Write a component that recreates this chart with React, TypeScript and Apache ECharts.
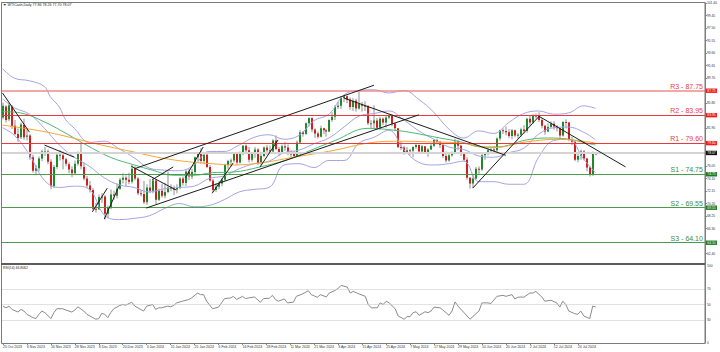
import React, { useEffect, useRef } from 'react';
import * as echarts from 'echarts';

const FONT = 'Liberation Sans, Arial, sans-serif';
const TITLE = '\u25BC WTICash,Daily 77.86 78.26 77.70 78.07';
const RSI_TITLE = 'RSI(14) 46.8062';

// x-axis tick labels (one every 8 daily bars)
const DATE_LABELS = [
  '25 Oct 2023', '6 Nov 2023', '16 Nov 2023', '28 Nov 2023', '8 Dec 2023', '20 Dec 2023',
  '3 Jan 2024', '15 Jan 2024', '25 Jan 2024', '6 Feb 2024', '16 Feb 2024', '28 Feb 2024',
  '11 Mar 2024', '21 Mar 2024', '3 Apr 2024', '15 Apr 2024', '25 Apr 2024', '7 May 2024',
  '17 May 2024', '29 May 2024', '10 Jun 2024', '20 Jun 2024', '2 Jul 2024', '12 Jul 2024',
  '24 Jul 2024',
];
const LABEL_STEP = 8;
const SLOT_COUNT = 235; // bar slots across the plot, incl. empty right margin

// daily candles [open, close, low, high]
const CANDLES = [
  // Oct 2023
  [83.6, 85.4, 83.3, 85.9], [85.3, 83.2, 82.8, 85.5], [83.3, 85.5, 83.0, 85.9], [85.3, 82.3, 81.8, 85.5], [82.3, 81.0, 80.8, 83.2],
  // Nov 2023
  [81.0, 80.4, 79.8, 81.9], [80.5, 82.5, 80.2, 82.8], [82.4, 80.5, 80.1, 83.4], [80.6, 80.8, 80.0, 81.9], [80.8, 77.4, 77.0, 81.0],
  [77.4, 75.3, 75.0, 77.8], [75.3, 75.7, 74.6, 76.2], [75.7, 77.2, 75.2, 77.5], [77.2, 78.3, 76.8, 78.6], [78.3, 78.3, 77.6, 79.0],
  [78.3, 76.7, 76.3, 78.6], [76.7, 72.9, 72.4, 77.1], [72.9, 75.9, 72.6, 76.2], [75.9, 77.8, 75.6, 78.2], [77.8, 77.8, 76.9, 78.5],
  [77.7, 77.1, 75.5, 78.3], [77.1, 76.4, 76.0, 77.3], [76.3, 75.5, 74.9, 76.6], [75.5, 74.9, 74.3, 76.0], [74.9, 76.4, 74.6, 76.9],
  [76.4, 77.9, 76.1, 78.3], [77.9, 76.0, 75.5, 79.7],
  // Dec 2023
  [75.9, 74.1, 73.8, 76.6], [74.1, 73.0, 72.6, 74.5], [73.0, 72.3, 71.9, 73.7], [72.3, 69.4, 69.2, 72.6], [69.4, 69.3, 68.8, 70.3],
  [69.3, 71.2, 69.2, 71.6], [71.2, 71.3, 70.3, 71.8], [71.3, 68.6, 67.7, 71.5], [68.6, 69.5, 67.9, 69.9], [69.5, 71.6, 69.3, 72.4],
  [71.6, 71.4, 70.8, 72.2], [71.4, 72.5, 71.0, 73.3], [72.5, 73.9, 72.3, 74.2], [73.9, 74.2, 73.3, 74.9], [74.2, 73.9, 72.9, 74.6],
  [73.9, 73.6, 73.2, 75.0], [73.6, 75.6, 73.3, 76.2], [75.6, 74.1, 73.8, 76.0], [74.1, 71.8, 71.5, 74.3], [71.8, 71.7, 71.3, 72.3],
  // Jan 2024
  [71.7, 70.4, 70.1, 73.7], [70.4, 72.7, 70.0, 73.2], [72.7, 72.2, 71.8, 74.0], [72.2, 73.8, 71.8, 74.2], [73.8, 70.8, 70.1, 74.0],
  [70.8, 72.2, 70.6, 72.5], [72.2, 71.4, 71.1, 73.3], [71.4, 72.0, 71.0, 73.4], [72.0, 72.7, 71.8, 75.2], [72.7, 72.5, 72.1, 73.2],
  [72.5, 72.4, 71.5, 73.0], [72.4, 72.6, 71.8, 73.2], [72.6, 74.1, 72.4, 74.3], [74.1, 73.4, 73.0, 74.4], [73.4, 75.2, 72.9, 75.4],
  [75.2, 74.4, 73.9, 75.6], [74.4, 75.1, 74.0, 75.6], [75.1, 77.4, 74.7, 77.5], [77.4, 78.0, 76.8, 78.2], [78.0, 76.8, 76.4, 78.8],
  [76.8, 77.8, 76.3, 78.0], [77.8, 75.9, 75.7, 78.0],
  // Feb 2024
  [75.9, 73.8, 73.6, 76.2], [73.8, 72.3, 72.0, 74.0], [72.3, 72.8, 72.0, 73.4], [72.8, 73.3, 72.4, 73.7], [73.3, 73.9, 72.9, 74.2],
  [73.9, 76.2, 73.7, 76.4], [76.2, 76.8, 75.6, 77.0], [76.8, 76.9, 76.0, 77.2], [76.9, 77.9, 76.6, 78.1], [77.9, 76.6, 76.2, 78.0],
  [76.6, 78.0, 76.4, 78.3], [78.0, 79.2, 77.7, 79.3], [79.2, 78.5, 78.2, 79.4], [78.5, 77.0, 76.6, 79.0], [77.0, 77.9, 76.7, 78.1],
  [77.9, 78.6, 77.3, 79.0], [78.6, 76.5, 76.2, 78.8], [76.5, 77.6, 76.2, 77.9], [77.6, 78.9, 77.4, 79.1], [78.9, 78.5, 77.8, 79.3],
  [78.5, 78.3, 77.9, 79.2],
  // Mar 2024
  [78.3, 80.0, 78.2, 80.2], [80.0, 78.7, 78.5, 80.8], [78.7, 78.2, 77.6, 79.0], [78.2, 79.1, 78.0, 79.4], [79.1, 78.9, 78.4, 79.8],
  [78.9, 78.0, 77.7, 79.4], [78.0, 77.9, 77.4, 78.5], [77.9, 77.6, 77.3, 78.4], [77.6, 79.7, 77.6, 80.0], [79.7, 81.3, 79.6, 81.6],
  [81.3, 81.0, 80.6, 81.5], [81.0, 82.7, 80.9, 82.8], [82.7, 83.5, 82.2, 83.6], [83.5, 81.7, 81.3, 83.6], [81.7, 81.1, 80.4, 81.9],
  [81.1, 80.6, 80.3, 81.4], [80.6, 81.9, 80.5, 82.3], [81.9, 81.6, 81.0, 82.0], [81.6, 81.4, 80.6, 81.8], [81.4, 83.2, 81.3, 83.3],
  // Apr 2024
  [83.2, 83.7, 82.9, 84.4], [83.7, 85.2, 83.2, 85.5], [85.2, 85.4, 84.9, 86.0], [85.4, 86.6, 84.9, 86.9], [86.6, 86.9, 86.0, 87.1],
  [86.9, 86.4, 85.8, 87.0], [86.4, 85.2, 84.8, 86.7], [85.2, 86.2, 84.6, 86.6], [86.2, 85.0, 84.5, 86.5], [85.0, 85.7, 84.8, 87.6],
  [85.7, 85.4, 84.5, 86.0], [85.4, 85.4, 84.6, 86.1], [85.4, 82.7, 82.4, 85.4], [82.7, 82.7, 81.9, 83.2], [82.7, 83.1, 81.9, 85.5],
  [83.1, 82.0, 81.7, 83.5], [82.0, 83.4, 81.7, 83.7], [83.4, 82.8, 82.4, 83.6], [82.8, 83.6, 82.0, 83.8], [83.6, 83.9, 83.3, 84.1],
  [83.9, 82.6, 82.2, 84.1], [82.6, 81.9, 81.5, 82.8],
  // May 2024
  [81.9, 79.0, 78.8, 81.9], [79.0, 78.9, 78.5, 79.9], [78.9, 78.1, 77.8, 79.2], [78.1, 78.5, 77.9, 79.0], [78.5, 78.4, 77.7, 78.7],
  [78.4, 79.0, 77.4, 79.1], [79.0, 79.3, 78.7, 79.6], [79.3, 78.3, 78.1, 79.4], [78.3, 79.1, 78.1, 79.3], [79.1, 78.0, 77.9, 79.1],
  [78.0, 78.6, 77.5, 78.8], [78.6, 79.2, 78.5, 79.5], [79.2, 80.1, 79.0, 80.2], [80.1, 79.8, 79.4, 80.3], [79.8, 79.3, 78.8, 79.9],
  [79.3, 77.6, 77.3, 79.4], [77.6, 76.9, 76.6, 78.3], [76.9, 77.7, 76.7, 78.0], [77.7, 78.1, 77.5, 78.3], [78.1, 79.8, 77.9, 80.3],
  [79.8, 79.2, 78.5, 80.1], [79.2, 77.9, 77.6, 79.3], [77.9, 77.0, 76.8, 78.2],
  // Jun 2024
  [77.0, 74.2, 73.9, 77.4], [74.2, 73.3, 72.5, 74.3], [73.3, 74.1, 72.6, 74.7], [74.1, 75.6, 73.9, 75.9], [75.6, 75.5, 74.8, 76.0],
  [75.5, 77.7, 75.3, 78.0], [77.7, 78.0, 77.0, 78.2], [78.0, 78.5, 77.7, 78.9], [78.5, 78.6, 77.9, 79.0], [78.6, 78.5, 78.0, 79.1],
  [78.5, 80.3, 78.1, 80.5], [80.3, 81.6, 80.0, 81.7], [81.6, 81.5, 81.0, 81.9], [81.5, 81.3, 80.8, 82.2], [81.3, 80.7, 80.4, 81.8],
  [80.7, 81.6, 80.2, 81.8], [81.6, 80.8, 80.5, 81.7], [80.8, 80.9, 80.3, 81.2], [80.9, 81.7, 80.6, 82.0], [81.7, 81.5, 81.1, 82.4],
  // Jul 2024
  [81.5, 83.4, 81.2, 83.5], [83.4, 82.8, 82.3, 83.9], [82.8, 83.9, 82.6, 84.1], [83.9, 83.8, 83.4, 84.2], [83.8, 83.2, 82.9, 84.4],
  [83.2, 82.3, 81.9, 83.5], [82.3, 81.4, 80.9, 82.4], [81.4, 82.1, 81.3, 82.7], [82.1, 82.6, 82.0, 83.0], [82.6, 82.2, 81.7, 83.0],
  [82.2, 81.9, 81.4, 82.4], [81.9, 80.8, 80.3, 82.0], [80.8, 82.9, 80.6, 83.0], [82.9, 82.8, 81.9, 83.3], [82.8, 80.1, 79.9, 82.9],
  [80.1, 79.8, 79.3, 80.6], [79.8, 77.0, 76.8, 79.9], [77.0, 77.6, 76.6, 78.0], [77.6, 78.3, 77.0, 78.6], [78.3, 77.2, 76.9, 78.5],
  [77.2, 75.8, 75.2, 77.3], [75.8, 74.7, 74.4, 76.0], [74.7, 77.9, 74.5, 78.3],
  // Aug 2024
  [77.86, 78.07, 77.70, 78.26],
];

// indicator lines read at sample bars: [barIndex, price]
const BB_UPPER = [
  [0, 91.2], [4, 89.7], [9, 89.3], [14, 88.4], [16, 86.8], [19, 85.2], [21, 83.3], [24, 81.9], [29, 79.7], [34, 79.9],
  [39, 78.7], [44, 77.3], [49, 75.7], [54, 75.4], [59, 75.3], [64, 76.2], [69, 78.3], [74, 78.3], [79, 79.3], [84, 80.5],
  [89, 80.9], [94, 80.2], [99, 80.8], [104, 83.1], [109, 84.1], [114, 87.1], [119, 87.8], [124, 87.9], [129, 87.4], [134, 87.8],
  [139, 86.4], [144, 84.4], [149, 81.8], [154, 80.4], [159, 81.5], [164, 81.1], [169, 82.8], [174, 84.2], [179, 84.6],
  [184, 84.1], [189, 84.3], [194, 85.4], [198, 85.0],
];
const BB_MID = [
  [0, 86.5], [4, 85.1], [9, 84.1], [14, 81.9], [19, 79.3], [24, 77.4], [29, 76.0], [34, 74.2], [39, 73.1], [44, 72.7],
  [49, 72.0], [54, 72.5], [59, 72.7], [64, 72.9], [69, 74.1], [74, 74.5], [79, 75.6], [84, 76.4], [89, 76.8], [94, 78.1],
  [99, 78.5], [104, 79.5], [109, 80.4], [114, 82.1], [119, 83.8], [124, 84.2], [129, 84.6], [134, 83.2], [139, 81.5],
  [144, 80.2], [149, 79.0], [154, 78.6], [159, 77.6], [164, 77.4], [169, 78.1], [174, 78.8], [179, 81.0], [184, 82.0],
  [189, 82.1], [194, 81.3], [198, 80.1],
];
const BB_LOWER = [
  [0, 82.0], [4, 80.8], [9, 77.8], [14, 73.8], [19, 72.7], [24, 72.9], [29, 72.4], [34, 68.4], [39, 67.7], [44, 67.9],
  [49, 68.3], [54, 69.4], [59, 70.2], [64, 69.7], [69, 69.9], [74, 70.8], [79, 72.0], [84, 72.4], [89, 72.7], [94, 76.2],
  [99, 76.4], [104, 75.8], [109, 76.9], [114, 76.9], [119, 79.6], [124, 80.5], [129, 81.6], [134, 78.6], [139, 76.6],
  [144, 76.2], [149, 76.4], [154, 76.8], [159, 73.6], [164, 73.6], [169, 73.2], [174, 73.2], [179, 77.4], [184, 80.0],
  [189, 80.2], [194, 77.1], [198, 75.0],
];
const MA_FAST = [
  [0, 84.5], [6, 84.3], [14, 82.9], [22, 80.9], [28, 79.3], [36, 77.4], [44, 76.2], [50, 75.4], [57, 74.6], [64, 74.6],
  [70, 75.0], [77, 75.1], [86, 75.9], [95, 77.0], [103, 78.5], [111, 80.0], [122, 81.9], [131, 81.6], [137, 81.2],
  [146, 80.4], [153, 79.8], [160, 79.0], [165, 79.0], [175, 80.1], [182, 80.4], [189, 80.2], [195, 79.6], [198, 79.3],
];
const MA_SLOW = [
  [0, 82.4], [6, 82.0], [16, 81.2], [26, 80.1], [33, 79.3], [44, 78.2], [53, 77.3], [62, 76.7], [70, 76.4], [77, 76.2],
  [86, 76.5], [96, 77.3], [111, 78.5], [122, 79.6], [132, 79.9], [142, 79.8], [153, 79.6], [164, 78.9], [175, 79.8],
  [186, 80.2], [198, 79.6],
];
const RSI_VALUES = [
  [0, 47.9], [1, 45.7], [2, 47.9], [3, 43.6], [5, 40.2], [6, 43.6], [7, 41.5], [8, 37.2], [10, 33.0], [11, 31.7],
  [12, 37.2], [13, 41.5], [14, 39.4], [16, 31.7], [17, 39.4], [18, 44.5], [20, 44.5], [21, 42.8], [23, 40.2], [24, 42.8],
  [25, 47.0], [27, 41.5], [28, 37.2], [30, 33.0], [31, 30.9], [32, 31.7], [33, 38.5], [34, 37.2], [35, 33.0], [36, 39.4],
  [37, 44.5], [39, 48.7], [40, 50.0], [41, 49.1], [43, 53.0], [44, 47.9], [46, 43.6], [47, 41.5], [48, 47.9], [50, 50.0],
  [51, 43.6], [52, 45.7], [53, 45.7], [55, 47.9], [56, 47.0], [57, 48.7], [58, 52.1], [60, 54.3], [62, 56.4], [63, 58.5],
  [65, 64.9], [66, 62.8], [67, 62.8], [68, 54.3], [70, 44.5], [72, 46.6], [73, 52.1], [74, 57.7], [76, 58.5], [77, 60.6],
  [78, 56.4], [80, 60.6], [81, 57.7], [82, 58.5], [84, 59.8], [86, 53.0], [87, 57.7], [89, 58.1], [90, 61.9], [91, 56.4],
  [92, 54.3], [94, 57.2], [95, 52.1], [97, 53.0], [98, 60.6], [100, 63.6], [102, 67.9], [103, 62.8], [105, 59.4],
  [106, 62.8], [108, 59.8], [109, 64.9], [111, 68.3], [112, 71.3], [113, 74.7], [115, 72.6], [116, 64.9], [117, 67.0],
  [119, 63.6], [121, 60.6], [122, 50.0], [123, 45.7], [124, 45.7], [125, 45.7], [126, 52.1], [127, 50.0], [128, 54.3],
  [129, 52.1], [131, 44.5], [132, 35.1], [133, 33.0], [134, 30.9], [135, 34.3], [136, 34.3], [137, 39.4], [138, 40.6],
  [139, 35.9], [141, 40.6], [142, 39.4], [143, 41.5], [144, 46.6], [146, 45.7], [148, 39.4], [149, 35.9], [150, 41.5],
  [151, 53.4], [152, 47.9], [154, 39.4], [156, 30.9], [158, 38.1], [159, 41.5], [160, 52.1], [162, 52.1], [163, 51.3],
  [165, 60.6], [167, 61.9], [168, 60.6], [170, 62.8], [171, 57.2], [172, 59.4], [173, 59.8], [174, 59.4], [176, 64.9],
  [177, 64.9], [178, 67.0], [180, 59.8], [181, 54.3], [183, 55.5], [185, 52.1], [186, 46.6], [187, 54.3], [188, 50.0],
  [189, 41.5], [191, 38.1], [192, 37.2], [193, 41.5], [194, 35.1], [196, 31.7], [197, 47.9], [198, 46.8],
];

// support / resistance levels and last price
const LEVELS = [
  { name: 'R3', value: 87.75 },
  { name: 'R2', value: 83.95 },
  { name: 'R1', value: 79.60 },
  { name: 'S1', value: 74.75 },
  { name: 'S2', value: 69.55 },
  { name: 'S3', value: 64.10 },
];
const LAST_PRICE = 78.07;

// hand-drawn trend lines: [[barIndex, price], [barIndex, price]]
const TREND_LINES = [
  [[0, 87.4], [9, 81.3]],
  [[14, 79.3], [24, 77.4]],
  [[30, 68.9], [35, 72.6]],
  [[34, 67.8], [39, 73.0]],
  [[43, 76.0], [58, 72.3]],
  [[50, 73.9], [57, 75.9]],
  [[61, 74.2], [67, 79.0]],
  [[70, 71.8], [77, 76.5]],
  [[86, 75.9], [92, 80.1]],
  [[44, 75.6], [124, 88.6]],
  [[48, 69.5], [139, 84.0]],
  [[114, 86.6], [168, 77.7]],
  [[157, 72.6], [179, 83.7]],
  [[179, 83.8], [208, 75.9]],
];

const PRICE_MIN = 60.45;
const PRICE_MAX = 101.40;
const PRICE_STEP = 1.95;
const RSI_LEVELS = [70, 50, 30];
const RSI_TICKS = [0, 30, 50, 70, 100];

const BULL = '#1f8a2c';
const BEAR = '#d41d1d';
const WICK = '#8f8f8f';
const BAND = '#a3a3e6';

export default function App() {
  const ref = useRef<HTMLDivElement>(null);

  useEffect(() => {
    if (!ref.current) return;
    const chart = echarts.init(ref.current, null, { renderer: 'svg' });

    const categories = Array.from({ length: SLOT_COUNT }, (_, i) =>
      i % LABEL_STEP === 0 && DATE_LABELS[i / LABEL_STEP] ? DATE_LABELS[i / LABEL_STEP] : ''
    );
    const isLabel = (i: number) => i % LABEL_STEP === 0 && i / LABEL_STEP < DATE_LABELS.length;
    const boxValues = [...LEVELS.map((l) => l.value), LAST_PRICE];
    const hiddenByBox = (v: number) => boxValues.some((b) => Math.abs(b - v) < 0.45);

    const levelMarks: any[] = [];
    LEVELS.forEach((l) => {
      const isR = l.name.startsWith('R');
      const lineColor = l.name === 'R3' ? '#f08a8a' : isR ? '#e8393b' : '#4a9e4a';
      levelMarks.push({
        yAxis: l.value,
        lineStyle: { color: lineColor, width: l.name === 'R3' ? 1.6 : 1.1, type: 'solid' },
        label: {
          show: true,
          position: 'insideEndTop',
          formatter: `${l.name} - ${l.value.toFixed(2)}`,
          color: isR ? '#ee3b3b' : '#3b8c3b',
          fontSize: 7,
          fontFamily: FONT,
          distance: [2, 1],
        },
      });
    });
    levelMarks.push({
      yAxis: LAST_PRICE,
      lineStyle: { color: '#d4d4d4', width: 2, type: 'solid' },
      label: { show: false },
    });

    const boxMarks: any[] = LEVELS.map((l) => ({
      yAxis: l.value,
      lineStyle: { color: 'rgba(0,0,0,0)', width: 0 },
      label: {
        show: true,
        position: 'end',
        formatter: l.value.toFixed(2),
        color: '#ffffff',
        backgroundColor: l.name.startsWith('R') ? '#f01a1a' : '#1f7a1f',
        fontSize: 3.3,
        fontFamily: FONT,
        padding: [0.8, 1.4, 0.6, 1.4],
        distance: 1,
      },
    }));
    boxMarks.push({
      yAxis: LAST_PRICE,
      lineStyle: { color: 'rgba(0,0,0,0)', width: 0 },
      label: {
        show: true,
        position: 'end',
        formatter: LAST_PRICE.toFixed(2),
        color: '#ffffff',
        backgroundColor: '#111111',
        fontSize: 3.3,
        fontFamily: FONT,
        padding: [0.8, 1.4, 0.6, 1.4],
        distance: 1,
      },
    });

    const lineSeries = (name: string, data: number[][], color: string, extra: any = {}) => ({
      type: 'line',
      name,
      xAxisIndex: 0,
      yAxisIndex: 0,
      data,
      showSymbol: false,
      smooth: 0.4,
      lineStyle: { color, width: 1 },
      z: 3,
      silent: true,
      ...extra,
    });

    const option: any = {
      animation: false,
      backgroundColor: '#ffffff',
      textStyle: { fontFamily: FONT },
      grid: [
        { left: 1, right: 15, top: 3, height: 263.2 },
        { left: 1, right: 15, top: 266, height: 77 },
      ],
      xAxis: [
        { type: 'category', gridIndex: 0, data: categories, boundaryGap: true, show: false },
        {
          type: 'category',
          gridIndex: 1,
          data: categories,
          boundaryGap: true,
          axisLine: { show: false },
          axisTick: {
            show: true,
            interval: (i: number) => isLabel(i),
            alignWithLabel: true,
            length: 2,
            lineStyle: { color: '#808080' },
          },
          axisLabel: {
            interval: (i: number) => isLabel(i),
            fontSize: 3.5,
            color: '#333333',
            fontFamily: FONT,
            align: 'left',
            margin: 2,
          },
          splitLine: { show: false },
        },
      ],
      yAxis: [
        {
          type: 'value',
          gridIndex: 0,
          position: 'right',
          min: PRICE_MIN,
          max: PRICE_MAX,
          interval: PRICE_STEP,
          splitLine: { show: false },
          axisLine: { show: true, lineStyle: { color: '#808080' } },
          axisTick: { show: true, length: 2, lineStyle: { color: '#808080' } },
          axisLabel: {
            fontSize: 3.3,
            color: '#333333',
            fontFamily: FONT,
            margin: 2,
            showMinLabel: false,
            formatter: (v: number) => (hiddenByBox(v) ? '' : v.toFixed(2)),
          },
        },
        {
          type: 'value',
          gridIndex: 1,
          position: 'right',
          min: 0,
          max: 100,
          interval: 10,
          splitLine: { show: false },
          axisLine: { show: true, lineStyle: { color: '#808080' } },
          axisTick: { show: false },
          axisLabel: {
            fontSize: 3.3,
            color: '#333333',
            fontFamily: FONT,
            margin: 2,
            formatter: (v: number) => (RSI_TICKS.includes(Math.round(v)) ? String(Math.round(v)) : ''),
          },
        },
      ],
      series: [
        {
          type: 'custom',
          name: 'WTICash',
          xAxisIndex: 0,
          yAxisIndex: 0,
          z: 2,
          clip: true,
          silent: true,
          data: CANDLES.map((c, i) => [i, c[0], c[1], c[2], c[3]]),
          encode: { x: 0, y: [1, 2, 3, 4] },
          renderItem: (_params: any, api: any) => {
            const i = api.value(0);
            const o = api.value(1);
            const c = api.value(2);
            const lo = api.value(3);
            const hi = api.value(4);
            const pHi = api.coord([i, hi]);
            const pLo = api.coord([i, lo]);
            const pTop = api.coord([i, Math.max(o, c)]);
            const pBot = api.coord([i, Math.min(o, c)]);
            const x0 = Math.floor(pHi[0]);
            return {
              type: 'group',
              children: [
                {
                  type: 'line',
                  shape: { x1: x0 + 1, y1: pHi[1], x2: x0 + 1, y2: pLo[1] },
                  style: { stroke: WICK, lineWidth: 1 },
                },
                {
                  type: 'rect',
                  shape: { x: x0, y: pTop[1], width: 2, height: Math.max(1, pBot[1] - pTop[1]) },
                  style: { fill: c >= o ? BULL : BEAR },
                },
              ],
            };
          },
        },
        lineSeries('BB upper', BB_UPPER, BAND, {
          markLine: {
            silent: true,
            symbol: ['none', 'none'],
            animation: false,
            data: levelMarks,
          },
        }),
        lineSeries('BB middle', BB_MID, BAND, {
          markLine: {
            silent: true,
            symbol: ['none', 'none'],
            animation: false,
            data: boxMarks,
          },
        }),
        lineSeries('BB lower', BB_LOWER, BAND, {
          markLine: {
            silent: true,
            symbol: ['none', 'none'],
            animation: false,
            lineStyle: { color: '#1b1b1b', width: 1, type: 'solid' },
            label: { show: false },
            data: TREND_LINES.map(([a, b]) => [{ coord: a }, { coord: b }]),
          },
        }),
        lineSeries('MA fast', MA_FAST, '#4cb873'),
        lineSeries('MA slow', MA_SLOW, '#f7a534'),
        {
          type: 'line',
          name: 'RSI',
          xAxisIndex: 1,
          yAxisIndex: 1,
          data: RSI_VALUES,
          showSymbol: false,
          silent: true,
          lineStyle: { color: '#8a8a8a', width: 1 },
          markLine: {
            silent: true,
            symbol: ['none', 'none'],
            animation: false,
            label: { show: false },
            lineStyle: { color: '#c4c4c4', width: 1, type: 'dotted' },
            data: RSI_LEVELS.map((v) => ({ yAxis: v })),
          },
        },
      ],
      graphic: [
        {
          type: 'rect',
          silent: true,
          z: 20,
          shape: { x: 1.5, y: 2.5, width: 703.5, height: 341 },
          style: { fill: 'none', stroke: '#7a7a7a', lineWidth: 1 },
        },
        {
          type: 'rect',
          silent: true,
          z: 20,
          shape: { x: 1, y: 263, width: 704, height: 2 },
          style: { fill: '#5c5c5c' },
        },
        {
          type: 'text',
          silent: true,
          z: 20,
          x: 3,
          y: 2.8,
          style: { text: TITLE, fontSize: 3.6, fontFamily: FONT, fill: '#222222', verticalAlign: 'top' },
        },
        {
          type: 'text',
          silent: true,
          z: 20,
          x: 3,
          y: 266.5,
          style: { text: RSI_TITLE, fontSize: 3.4, fontFamily: FONT, fill: '#222222', verticalAlign: 'top' },
        },
      ],
    };

    chart.setOption(option);
    return () => chart.dispose();
  }, []);

  return (
    <div
      ref={ref}
      style={{ position: 'fixed', left: 0, top: 0, width: 720, height: 352, background: '#ffffff' }}
    />
  );
}
